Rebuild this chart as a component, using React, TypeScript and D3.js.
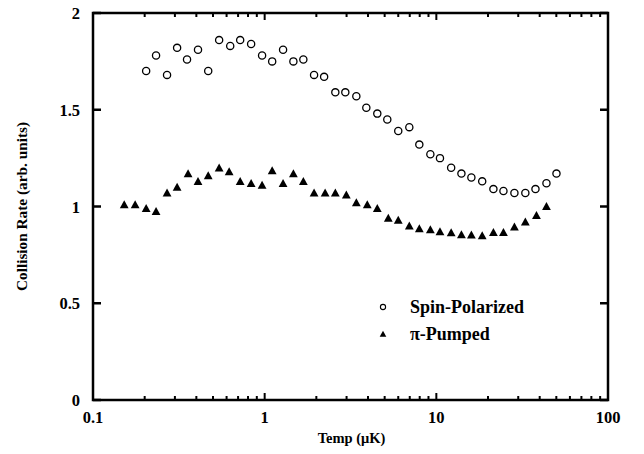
import React from "react";
import * as d3 from "d3";

// temperatures (µK) and collision rates
const spinTemps = [
  0.204, 0.233, 0.27, 0.309, 0.353, 0.409, 0.469, 0.543, 0.63, 0.72,
  0.834, 0.966, 1.106, 1.28, 1.47, 1.68, 1.94, 2.22, 2.58, 2.95,
  3.42, 3.91, 4.53, 5.18, 6.0, 6.96, 7.96, 9.23, 10.5, 12.2,
  14.0, 16.0, 18.5, 21.5, 24.6, 28.5, 33.0, 37.8, 43.8, 50.1,
];
const spinRates = [
  1.7, 1.78, 1.68, 1.82, 1.76, 1.81, 1.7, 1.86, 1.83, 1.86,
  1.84, 1.78, 1.75, 1.81, 1.75, 1.76, 1.68, 1.67, 1.59, 1.59,
  1.57, 1.51, 1.48, 1.45, 1.39, 1.41, 1.32, 1.27, 1.25, 1.2,
  1.17, 1.15, 1.13, 1.09, 1.08, 1.07, 1.07, 1.09, 1.12, 1.17,
];
const piTemps = [
  0.152, 0.176, 0.204, 0.233, 0.27, 0.309, 0.358, 0.409, 0.469, 0.543,
  0.621, 0.72, 0.834, 0.966, 1.106, 1.28, 1.47, 1.68, 1.94, 2.25,
  2.58, 2.99, 3.42, 3.96, 4.53, 5.25, 6.0, 6.96, 7.96, 9.23,
  10.5, 12.2, 14.0, 16.0, 18.5, 21.5, 24.6, 28.5, 33.0, 38.3, 43.8,
];
const piRates = [
  1.01, 1.01, 0.99, 0.975, 1.07, 1.1, 1.17, 1.13, 1.16, 1.2,
  1.18, 1.13, 1.12, 1.11, 1.185, 1.12, 1.17, 1.13, 1.07, 1.07,
  1.07, 1.06, 1.02, 1.01, 0.99, 0.94, 0.93, 0.9, 0.885, 0.88,
  0.87, 0.865, 0.855, 0.853, 0.85, 0.866, 0.866, 0.894, 0.92, 0.954, 1.0,
];
const xTickValues = [0.1, 1, 10, 100];
const xTickLabels = ["0.1", "1", "10", "100"];
const yTickValues = [0, 0.5, 1, 1.5, 2];
const yTickLabels = ["0", "0.5", "1", "1.5", "2"];
const legendLabels = ["Spin-Polarized", "\u03c0-Pumped"];

const width = 644;
const height = 454;
const left = 93;
const right = 608;
const top = 13;
const bottom = 400;
const font = "'Liberation Serif', 'DejaVu Serif', serif";

const tri = (s: number) =>
  `M0,${-s * 0.55}L${s * 0.55},${s * 0.45}L${-s * 0.55},${s * 0.45}Z`;

export default function App() {
  const x = d3.scaleLog().domain([0.1, 100]).range([left, right]);
  const y = d3.scaleLinear().domain([0, 2]).range([bottom, top]);

  const minor: number[] = [];
  for (const dec of [0.1, 1, 10]) {
    for (let k = 2; k <= 9; k++) minor.push(dec * k);
  }

  return (
    <div style={{ position: "absolute", left: 0, top: 0 }}>
      <svg width={width} height={height} style={{ display: "block", background: "#fff" }}>
        <g stroke="#000" fill="none">
          {/* x ticks top and bottom */}
          {minor.map((v, i) => (
            <g key={"m" + i} strokeWidth={2}>
              <line x1={x(v)} x2={x(v)} y1={bottom} y2={bottom - 4} />
              <line x1={x(v)} x2={x(v)} y1={top} y2={top + 4} />
            </g>
          ))}
          {xTickValues.map((v, i) => (
            <g key={"M" + i} strokeWidth={2}>
              <line x1={x(v)} x2={x(v)} y1={bottom} y2={bottom - 7} />
              <line x1={x(v)} x2={x(v)} y1={top} y2={top + 7} />
            </g>
          ))}
          {yTickValues.map((v, i) => (
            <g key={"y" + i} strokeWidth={2.5}>
              <line x1={left} x2={left + 8} y1={y(v)} y2={y(v)} />
              <line x1={right} x2={right - 8} y1={y(v)} y2={y(v)} />
            </g>
          ))}
          <rect x={left} y={top} width={right - left} height={bottom - top} strokeWidth={2.5} />
        </g>

        <g fontFamily={font} fontWeight="bold" fontSize={16.5} fill="#000">
          {xTickValues.map((v, i) => (
            <text key={i} x={x(v)} y={bottom + 23} textAnchor="middle">
              {xTickLabels[i]}
            </text>
          ))}
          {yTickValues.map((v, i) => (
            <text key={i} x={left - 13} y={y(v) + 6} textAnchor="end">
              {yTickLabels[i]}
            </text>
          ))}
          <text x={(left + right) / 2 + 1} y={bottom + 43} textAnchor="middle" fontSize={14.5}>
            Temp (μK)
          </text>
          <text
            transform={`translate(27,${(top + bottom) / 2}) rotate(-90)`}
            textAnchor="middle"
            fontSize={15.3}
          >
            Collision Rate (arb. units)
          </text>
        </g>

        <g className="spin" fill="none" stroke="#000" strokeWidth={1.3}>
          {spinTemps.map((t, i) => (
            <circle key={i} cx={x(t)} cy={y(spinRates[i])} r={3.6} />
          ))}
        </g>
        <g className="pi" fill="#000">
          {piTemps.map((t, i) => (
            <path key={i} d={tri(8)} transform={`translate(${x(t)},${y(piRates[i])})`} />
          ))}
        </g>

        <g className="legend" fontFamily={font} fontWeight="bold" fontSize={18}>
          <circle cx={383} cy={307} r={2.6} fill="none" stroke="#000" strokeWidth={1.1} />
          <text x={410} y={313}>{legendLabels[0]}</text>
          <path d={tri(6)} transform="translate(383,334)" fill="#000" />
          <text x={410} y={340}>{legendLabels[1]}</text>
        </g>
      </svg>
    </div>
  );
}
